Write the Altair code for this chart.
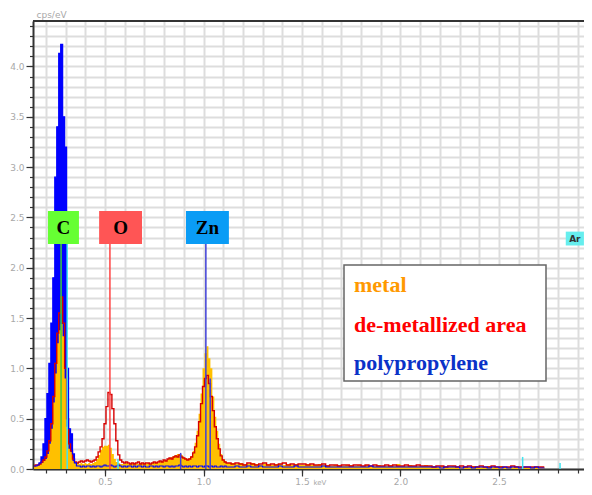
import altair as alt
import pandas as pd

# ---------------- data ----------------
# channel energies in keV: fine channels 0.14-1.13, coarser ones 1.15-2.73
energy_fine = [round(0.14 + 0.01 * i, 2) for i in range(100)]
energy_coarse = [round(1.15 + 0.02 * i, 2) for i in range(80)]
energy = energy_fine + energy_coarse

metal = [
    0.03, 0.03, 0.04, 0.05, 0.06, 0.08, 0.10, 0.15, 0.25, 0.40,
    0.66, 0.95, 1.25, 1.38, 1.44, 1.32, 0.90, 0.42, 0.20, 0.17,
    0.08, 0.06, 0.06, 0.05, 0.06, 0.05, 0.06, 0.05, 0.06, 0.05,
    0.06, 0.07, 0.10, 0.14, 0.19, 0.22, 0.23, 0.23, 0.24, 0.21,
    0.15, 0.10, 0.07, 0.06, 0.05, 0.05, 0.05, 0.06, 0.05, 0.06,
    0.05, 0.06, 0.05, 0.05, 0.06, 0.05, 0.06, 0.05, 0.06, 0.05,
    0.06, 0.06, 0.07, 0.06, 0.07, 0.08, 0.08, 0.09, 0.10, 0.11,
    0.12, 0.13, 0.14, 0.15, 0.15, 0.14, 0.12, 0.11, 0.10, 0.11,
    0.13, 0.18, 0.26, 0.38, 0.55, 0.75, 1.00, 1.15, 1.22, 1.10,
    1.00, 0.72, 0.52, 0.38, 0.25, 0.15, 0.10, 0.08, 0.06, 0.06,
    # coarse part
    0.06, 0.05, 0.06, 0.05, 0.05, 0.06, 0.05, 0.04, 0.05, 0.05,
    0.04, 0.05, 0.05, 0.04, 0.05, 0.04, 0.05, 0.04, 0.04, 0.05,
    0.04, 0.04, 0.05, 0.04, 0.04, 0.03, 0.04, 0.04, 0.03, 0.04,
    0.04, 0.03, 0.04, 0.03, 0.04, 0.03, 0.03, 0.04, 0.03, 0.03,
    0.04, 0.03, 0.05, 0.03, 0.03, 0.04, 0.03, 0.03, 0.03, 0.04,
    0.03, 0.03, 0.02, 0.03, 0.03, 0.02, 0.03, 0.03, 0.02, 0.03,
    0.02, 0.03, 0.03, 0.02, 0.02, 0.03, 0.02, 0.02, 0.03, 0.02,
    0.02, 0.02, 0.03, 0.02, 0.02, 0.02, 0.02, 0.03, 0.02, 0.02,
]

demetallized = [
    0.03, 0.04, 0.04, 0.05, 0.07, 0.09, 0.12, 0.18, 0.28, 0.45,
    0.72, 1.05, 1.35, 1.55, 1.71, 1.45, 1.00, 0.50, 0.25, 0.18,
    0.10, 0.07, 0.06, 0.07, 0.08, 0.07, 0.08, 0.09, 0.08, 0.07,
    0.08, 0.09, 0.12, 0.17, 0.22, 0.30, 0.45, 0.62, 0.76, 0.74,
    0.60, 0.45, 0.28, 0.14, 0.09, 0.07, 0.06, 0.07, 0.06, 0.05,
    0.06, 0.05, 0.06, 0.07, 0.05, 0.06, 0.05, 0.06, 0.06, 0.05,
    0.06, 0.07, 0.06, 0.07, 0.08, 0.07, 0.09, 0.08, 0.10, 0.11,
    0.10, 0.12, 0.13, 0.12, 0.14, 0.12, 0.11, 0.10, 0.09, 0.10,
    0.12, 0.16, 0.22, 0.33, 0.47, 0.65, 0.82, 0.90, 0.93, 0.85,
    0.72, 0.58, 0.42, 0.30, 0.20, 0.13, 0.09, 0.07, 0.06, 0.06,
    # coarse part
    0.05, 0.06, 0.05, 0.04, 0.06, 0.05, 0.04, 0.05, 0.06, 0.04,
    0.05, 0.04, 0.05, 0.06, 0.04, 0.05, 0.04, 0.05, 0.05, 0.04,
    0.05, 0.04, 0.04, 0.05, 0.03, 0.04, 0.04, 0.03, 0.04, 0.04,
    0.03, 0.04, 0.04, 0.03, 0.04, 0.03, 0.04, 0.03, 0.03, 0.04,
    0.03, 0.04, 0.03, 0.03, 0.04, 0.03, 0.03, 0.04, 0.03, 0.03,
    0.03, 0.02, 0.03, 0.03, 0.02, 0.03, 0.03, 0.02, 0.03, 0.02,
    0.03, 0.02, 0.02, 0.03, 0.02, 0.02, 0.03, 0.02, 0.02, 0.02,
    0.02, 0.03, 0.02, 0.02, 0.02, 0.02, 0.02, 0.02, 0.02, 0.02,
]

polypropylene = [
    0.03, 0.03, 0.04, 0.06, 0.12, 0.25, 0.50, 0.75, 1.05, 1.45,
    1.90, 2.90, 3.40, 4.13, 4.22, 3.50, 3.20, 1.00, 0.40, 0.35,
    0.15, 0.06, 0.03, 0.03, 0.02, 0.03, 0.02, 0.03, 0.03, 0.02,
    0.03, 0.02, 0.03, 0.03, 0.02, 0.03, 0.04, 0.03, 0.03, 0.04,
    0.03, 0.02, 0.03, 0.04, 0.03, 0.02, 0.03, 0.02, 0.03, 0.03,
    0.02, 0.03, 0.02, 0.03, 0.03, 0.02, 0.03, 0.02, 0.02, 0.03,
    0.03, 0.02, 0.03, 0.02, 0.03, 0.03, 0.02, 0.03, 0.03, 0.02,
    0.03, 0.02, 0.03, 0.03, 0.04, 0.03, 0.02, 0.03, 0.02, 0.03,
    0.02, 0.03, 0.03, 0.02, 0.03, 0.03, 0.02, 0.03, 0.03, 0.02,
    0.03, 0.02, 0.03, 0.02, 0.02, 0.03, 0.02, 0.03, 0.02, 0.02,
    # coarse part
    0.02, 0.03, 0.02, 0.02, 0.03, 0.02, 0.02, 0.03, 0.02, 0.02,
    0.02, 0.02, 0.03, 0.02, 0.02, 0.02, 0.03, 0.02, 0.02, 0.02,
    0.02, 0.02, 0.02, 0.03, 0.02, 0.02, 0.02, 0.02, 0.02, 0.02,
    0.02, 0.02, 0.02, 0.02, 0.02, 0.03, 0.02, 0.02, 0.02, 0.02,
    0.02, 0.02, 0.02, 0.02, 0.02, 0.02, 0.02, 0.02, 0.02, 0.02,
    0.02, 0.02, 0.02, 0.01, 0.02, 0.02, 0.02, 0.02, 0.01, 0.02,
    0.02, 0.01, 0.02, 0.02, 0.02, 0.01, 0.02, 0.02, 0.01, 0.02,
    0.01, 0.02, 0.02, 0.01, 0.02, 0.02, 0.01, 0.02, 0.01, 0.01,
]

# element line markers (keV) and their heights (cps/eV)
marker_element = ["C", "Ar", "O", "Ar", "Zn", "Zn", "Zn", "Ar", "Ar", "Ar"]
marker_energy = [0.277, 0.308, 0.525, 0.566, 0.884, 1.012, 1.034, 2.62, 2.81, 2.957]
marker_top = [2.24, 2.24, 2.24, 0.10, 0.16, 2.24, 0.90, 0.12, 0.06, 0.26]

# element labels
label_text = ["C", "O", "Zn", "Ar"]
label_energy = [0.289, 0.579, 1.020, 2.885]
label_level = [2.40, 2.40, 2.40, 2.29]

legend_names = ["metal", "de-metallized area", "polypropylene"]

x_minor = [round(0.2 + 0.1 * i, 1) for i in range(28)]
x_major = [0.5, 1.0, 1.5, 2.0, 2.5]
y_minor = [round(0.1 * i, 1) for i in range(45)]
y_major = [0.0, 0.5, 1.0, 1.5, 2.0, 2.5, 3.0, 3.5, 4.0]

# ---------------- chart ----------------
spec = pd.DataFrame({"energy": energy, "metal": metal,
                     "demet": demetallized, "pp": polypropylene})
markers = pd.DataFrame({"element": marker_element, "energy": marker_energy,
                        "top": marker_top})
labels = pd.DataFrame({"element": label_text, "energy": label_energy,
                       "level": label_level})

W, H = 551, 448
xs = alt.Scale(domain=[0.1345, 2.9315], nice=False, zero=False)
ys = alt.Scale(domain=[0, 4.452], nice=False)

AX = "#333333"
LAB = "#a8a8a8"
GRID = "#dddddd"

common = dict(tickColor=AX, tickWidth=1.2, domainColor=AX, domainWidth=2)

x_minor_axis = alt.Axis(values=x_minor, orient="bottom", grid=True,
                        gridColor=GRID, gridWidth=2, labels=False,
                        tickSize=4, title=None, **common)
y_minor_axis = alt.Axis(values=y_minor, orient="left", grid=True,
                        gridColor=GRID, gridWidth=2, labels=False,
                        tickSize=3.5, title=None, **common)
x_major_axis = alt.Axis(
    values=x_major, orient="bottom", grid=False, format=".1f", tickSize=7,
    labelColor=LAB, labelFont="DejaVu Sans", labelFontSize=9, labelPadding=1,
    labelFlush=False, labelOverlap=False, domain=False,
    tickColor=AX, tickWidth=1.2,
    title="keV", titleColor=LAB, titleFont="DejaVu Sans", titleFontSize=7,
    titleFontWeight="normal", titleAlign="left", titleX=280, titleY=9,
    titleBaseline="top",
)
y_major_axis = alt.Axis(
    values=y_major, orient="left", grid=False, format=".1f", tickSize=7,
    labelColor=LAB, labelFont="DejaVu Sans", labelFontSize=9, labelPadding=2,
    labelFlush=False, labelOverlap=False, domain=False,
    tickColor=AX, tickWidth=1.2,
    title="cps/eV", titleColor=LAB, titleFont="DejaVu Sans", titleFontSize=9,
    titleFontWeight="normal", titleAngle=0, titleAlign="left",
    titleBaseline="alphabetic", titleX=3, titleY=-4,
)

Xn = alt.X("energy:Q", scale=xs, axis=None)

# invisible layers that carry the axes (minor grid/ticks and major labels)
axis_minor = alt.Chart(spec).mark_point(opacity=0).encode(
    x=alt.X("energy:Q", scale=xs, axis=x_minor_axis),
    y=alt.Y("pp:Q", scale=ys, axis=y_minor_axis),
)
axis_major = alt.Chart(spec).mark_point(opacity=0).encode(
    x=alt.X("energy:Q", scale=xs, axis=x_major_axis),
    y=alt.Y("pp:Q", scale=ys, axis=y_major_axis),
)

blue_area = alt.Chart(spec).mark_area(
    interpolate="step", color="#0000ff", clip=True
).encode(x=Xn, y=alt.Y("pp:Q", scale=ys, axis=None))

metal_area = alt.Chart(spec).mark_area(
    interpolate="step", color="#ffc000", clip=True
).encode(x=Xn, y=alt.Y("metal:Q", scale=ys, axis=None))

red_line = alt.Chart(spec).mark_line(
    interpolate="step", color="#d60000", strokeWidth=1.4, clip=True
).encode(x=Xn, y=alt.Y("demet:Q", scale=ys, axis=None))

blue_line = alt.Chart(spec).mark_line(
    interpolate="step", color="#0000ff", strokeWidth=1.2, clip=True
).encode(x=Xn, y=alt.Y("pp:Q", scale=ys, axis=None))

rules = alt.Chart(markers).mark_rule(strokeWidth=1.5, clip=True).encode(
    x=Xn,
    y=alt.Y("top:Q", scale=ys, axis=None),
    y2=alt.datum(0),
    stroke=alt.Stroke("element:N", scale=alt.Scale(
        domain=["C", "O", "Zn", "Ar"],
        range=["#3ccf3c", "#ff4444", "#4040d8", "#40e4f0"]), legend=None),
)

box_c = "M-0.94,-1L0.94,-1L0.94,1L-0.94,1Z"
box_w = "M-1.3,-1L1.3,-1L1.3,1L-1.3,1Z"
box_s = "M-0.55,-0.42L0.55,-0.42L0.55,0.42L-0.55,0.42Z"
boxes = alt.Chart(labels).mark_point(
    filled=True, opacity=1, size=1089, strokeWidth=0, clip=True
).encode(
    x=Xn,
    y=alt.Y("level:Q", scale=ys, axis=None),
    shape=alt.Shape("element:N", scale=alt.Scale(
        domain=["C", "O", "Zn", "Ar"], range=[box_c, box_w, box_w, box_s]),
        legend=None),
    fill=alt.Fill("element:N", scale=alt.Scale(
        domain=["C", "O", "Zn", "Ar"],
        range=["#66ff33", "#ff5555", "#0a9cf5", "#66eeee"]), legend=None),
)
box_text = alt.Chart(labels).transform_filter(
    "datum.element != 'Ar'"
).mark_text(
    font="Liberation Serif", fontWeight="bold", fontSize=19,
    color="black", baseline="middle", align="center", dy=1
).encode(x=Xn, y=alt.Y("level:Q", scale=ys, axis=None), text="element:N")
ar_text = alt.Chart(labels).transform_filter(
    "datum.element == 'Ar'"
).mark_text(
    font="DejaVu Sans", fontWeight="bold", fontSize=9, color="#333333",
    baseline="middle", align="center"
).encode(x=Xn, y=alt.Y("level:Q", scale=ys, axis=None), text="element:N")

legend_box = alt.Chart(labels).transform_filter(
    "datum.element == 'C'"
).mark_rect(
    fill="white", stroke="#666666", strokeWidth=1.5
).encode(x=alt.value(311), x2=alt.value(513), y=alt.value(244), y2=alt.value(360))

legend_colors = ["#ff9900", "#ff0000", "#0a32c8"]
legend_rows = [271, 311, 349]
legend_texts = [
    alt.Chart(labels).transform_filter("datum.element == 'C'").mark_text(
        text=name, font="Liberation Serif", fontWeight="bold", fontSize=22,
        color=col, align="left", baseline="alphabetic"
    ).encode(x=alt.value(321), y=alt.value(row))
    for name, col, row in zip(legend_names, legend_colors, legend_rows)
]

top_border = alt.Chart(labels).transform_filter(
    "datum.element == 'C'"
).mark_rule(color=AX, strokeWidth=2).encode(
    x=alt.value(0), x2=alt.value(W), y=alt.value(0)
)

chart = alt.layer(
    axis_minor, axis_major,
    blue_area, metal_area, red_line, blue_line, rules, boxes, box_text,
    ar_text, legend_box, *legend_texts, top_border
).resolve_axis(
    x="independent", y="independent"
).properties(
    width=W, height=H,
    autosize=alt.AutoSizeParams(type="none"),
    padding={"left": 25, "top": 13, "right": 0, "bottom": 16},
    background="white",
).configure_view(stroke=None)

chart.save("out.html", embed_options={"renderer": "svg", "actions": False})
